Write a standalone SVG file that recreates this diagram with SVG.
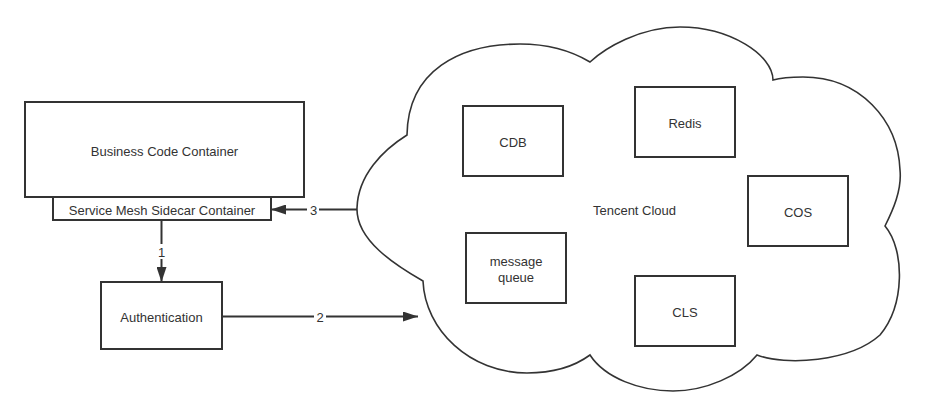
<svg xmlns="http://www.w3.org/2000/svg" width="937" height="417" viewBox="0 0 937 417">
<style>
.box{fill:#ffffff;stroke:#333333;stroke-width:2}
.cloud{fill:#ffffff;stroke:#333333;stroke-width:1.6}
.t{font-family:"Liberation Sans",Arial,sans-serif;font-size:13px;fill:#333333;text-anchor:middle}
.edge{fill:none;stroke:#333333;stroke-width:2}
.lbl{fill:#ffffff}
</style>
<defs>
<marker id="ah" markerWidth="15" markerHeight="10" refX="15" refY="5" orient="auto" markerUnits="userSpaceOnUse">
<path d="M0,0 L15,5 L0,10 Z" fill="#333333"/>
</marker>
</defs>
<rect width="937" height="417" fill="#ffffff"/>
<g id="cloud">
<path class="cloud" d="M407,135 C383,150 358,175 357,208 C356,240 395,265 423,281 C425,330 470,373 527,373 C555,373 575,366 590,355 C605,378 640,391 673,391 C705,391 740,376 757,355 C785,366 850,362 880,335 C905,305 905,250 885,226 C893,210 902,190 900,170 C898,120 860,77 803,77 C790,77 780,78 773,80 C773,55 730,27 680,27 C640,27 605,48 590,62 C570,50 545,44 520,44 C460,44 408,70 407,135 Z"/>
<text class="t" x="634.5" y="215">Tencent Cloud</text>
</g>
<g id="business">
<rect class="box" x="25" y="102" width="279" height="95"/>
<text class="t" x="164.5" y="156">Business Code Container</text>
</g>
<g id="sidecar">
<rect class="box" x="53" y="197" width="218" height="23"/>
<text class="t" x="162" y="214.5">Service Mesh Sidecar Container</text>
</g>
<g id="auth">
<rect class="box" x="101" y="282" width="121" height="67"/>
<text class="t" x="161.5" y="321.5">Authentication</text>
</g>
<g id="cdb">
<rect class="box" x="463" y="106" width="100" height="70"/>
<text class="t" x="513" y="146.5">CDB</text>
</g>
<g id="redis">
<rect class="box" x="635" y="87" width="100" height="70"/>
<text class="t" x="685" y="128">Redis</text>
</g>
<g id="cos">
<rect class="box" x="748" y="176" width="100" height="70"/>
<text class="t" x="798" y="217">COS</text>
</g>
<g id="mq">
<rect class="box" x="466" y="233" width="100" height="70"/>
<text class="t" x="516" y="265.5">message</text>
<text class="t" x="516" y="281.5">queue</text>
</g>
<g id="cls">
<rect class="box" x="635" y="276" width="100" height="70"/>
<text class="t" x="685" y="316.5">CLS</text>
</g>
<g id="connectors">
<path class="edge" d="M161.5,220 L161.5,282" marker-end="url(#ah)"/>
<rect class="lbl" x="156" y="244" width="11" height="15"/>
<text class="t" x="161.5" y="256.5">1</text>
<path class="edge" d="M222,316.5 L418,316.5" marker-end="url(#ah)"/>
<rect class="lbl" x="314" y="309" width="12" height="15"/>
<text class="t" x="320" y="321.5">2</text>
<path class="edge" d="M357,209.5 L271,209.5" marker-end="url(#ah)"/>
<rect class="lbl" x="307" y="202" width="12" height="15"/>
<text class="t" x="313.5" y="214.5">3</text>
</g>
</svg>
